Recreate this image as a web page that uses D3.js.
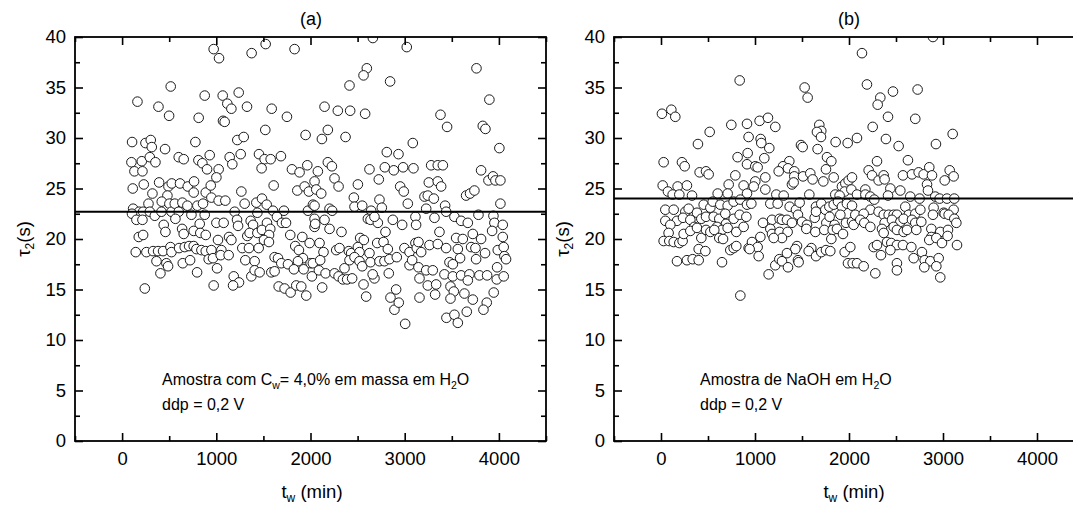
<!DOCTYPE html>
<html>
<head>
<meta charset="utf-8">
<script src="https://cdn.jsdelivr.net/npm/d3@7"></script>
<style>
  body { margin: 0; background: #fff; }
  text { font-family: Arial, "Liberation Sans", sans-serif; fill: #000; }
</style>
</head>
<body>
<svg id="chart" width="1073" height="508"></svg>
<script>
// tau2 (s) measured against waiting time tw (min)
const seriesA = [
  [516,35.1],[163,33.6],[386,33.1],[499,32.2],[813,32.0],[877,34.2],[106,29.6],[248,29.5],[304,29.8],[315,29.1],
  [456,28.9],[778,29.6],[99,27.6],[209,27.7],[294,28.1],[354,27.6],[131,26.7],[216,26.7],[601,28.1],[654,27.9],
  [810,27.8],[852,27.5],[902,26.9],[930,28.3],[113,25.0],[230,25.4],[393,25.6],[322,24.5],[492,25.2],[527,25.5],
  [615,25.5],[697,25.2],[764,25.7],[760,24.6],[481,24.3],[888,24.6],[117,23.0],[181,22.7],[105,22.5],[223,22.7],
  [280,23.5],[294,22.7],[347,22.3],[421,23.7],[418,22.7],[502,23.5],[524,22.7],[559,23.5],[601,22.7],[640,23.6],
  [693,23.3],[736,22.4],[799,23.3],[859,23.5],[877,22.4],[152,21.9],[216,21.9],[442,21.4],[460,20.7],[566,22.0],
  [177,20.2],[223,20.4],[637,21.0],[654,20.5],[760,20.8],[824,21.5],[830,20.6],[888,20.4],[145,18.7],[258,18.7],
  [329,18.8],[382,18.8],[435,18.8],[513,19.2],[524,18.7],[605,19.1],[665,19.2],[711,19.3],[760,19.3],[789,19.0],
  [842,18.9],[888,18.8],[365,17.8],[470,17.6],[488,17.3],[407,16.6],[644,17.6],[722,17.9],[796,16.7],[919,18.0],
  [241,15.1],
  [972,38.8],[1029,37.9],[1375,38.4],[1524,39.3],[1831,38.8],[1068,34.2],[1117,33.4],[1160,32.9],[1238,34.5],[1326,33.1],
  [1588,32.9],[1750,32.1],[1071,31.7],[1089,31.6],[1520,30.8],[1948,30.3],[1223,29.8],[1291,30.1],[1142,28.1],[1170,27.4],
  [1259,28.4],[1453,28.4],[1513,27.9],[1577,27.9],[1481,27.0],[1686,28.2],[1025,26.9],[1001,26.1],[1803,26.9],[1884,26.6],
  [1966,27.3],[941,25.3],[1266,24.7],[1609,25.3],[1860,24.8],[1938,25.2],[1983,24.7],[2043,25.7],[948,24.1],[1025,23.8],
  [1096,23.8],[1301,23.5],[1425,23.6],[1485,24.0],[1535,23.4],[1195,22.7],[1436,22.6],[1602,22.8],[1718,22.8],[1973,22.8],
  [2026,23.4],[1220,21.9],[1365,21.8],[1390,21.4],[1538,21.6],[1644,22.2],[1697,21.6],[1740,21.6],[2043,21.2],[1001,21.6],
  [1078,21.6],[1231,21.3],[1018,19.9],[1135,20.2],[1160,19.9],[1329,20.3],[1354,20.6],[1436,20.6],[1485,20.9],[1573,21.0],
  [1560,20.4],[1506,19.9],[1559,19.7],[1785,20.4],[1913,20.2],[1991,19.6],[948,18.9],[1054,18.9],[965,18.1],[1047,18.4],
  [1131,18.4],[1276,19.1],[1347,19.1],[1450,19.1],[1308,17.9],[1407,17.8],[1619,18.2],[1655,18.1],[1838,19.3],[1877,18.9],
  [1920,18.1],[1867,17.8],[1008,17.1],[1185,16.3],[1241,15.7],[1178,15.4],[1372,16.3],[1407,16.9],[1460,16.7],[1584,16.7],
  [1619,16.8],[1690,17.6],[1761,17.5],[1824,17.0],[1927,17.0],[2015,16.3],[2001,17.6],[972,15.4],[1662,15.3],[1725,15.1],
  [1789,14.7],[1849,15.4],[1902,15.3],[1955,14.4],
  [2662,39.9],[3022,39.0],[2598,36.9],[2563,36.2],[2414,35.2],[2845,35.6],[2149,33.1],[2290,32.7],[2421,32.7],[2580,32.4],
  [2184,30.8],[2121,29.9],[2372,30.1],[3086,29.5],[2810,28.6],[2934,28.4],[2184,27.6],[2227,27.2],[2078,26.7],[2626,26.9],
  [2789,27.1],[2884,26.8],[2983,27.1],[3093,27.0],[2255,26.0],[2298,25.2],[2503,25.4],[2725,25.9],[2061,24.9],[2114,24.5],
  [2952,25.2],[2990,24.7],[2043,23.3],[2460,24.1],[2732,23.9],[3033,23.5],[2202,23.0],[2230,22.8],[2467,23.2],[2549,23.3],
  [2644,22.8],[2757,23.1],[2043,22.0],[2149,21.9],[2050,21.5],[2202,21.0],[2329,20.7],[2609,22.0],[2637,21.9],[2715,21.6],
  [2679,22.2],[2874,21.9],[2973,21.4],[3114,22.2],[3121,21.4],[2796,20.7],[2527,20.1],[2566,19.9],[2708,19.6],[2775,19.7],
  [2821,19.0],[2096,19.6],[2138,18.7],[2273,18.9],[2308,19.1],[2407,18.8],[2432,18.6],[2503,19.2],[2520,18.7],[2626,18.6],
  [2997,19.1],[3051,18.7],[3114,19.6],[3128,19.1],[2025,17.6],[2103,17.9],[2089,16.9],[2160,16.6],[2255,16.6],[2298,16.3],
  [2344,16.0],[2389,16.0],[2442,16.1],[2361,17.1],[2414,17.9],[2467,18.2],[2520,17.8],[2549,17.3],[2637,17.7],[2679,16.1],
  [2660,16.5],[2732,17.8],[2785,17.8],[2838,18.0],[2831,16.6],[2916,18.2],[3051,17.4],[3079,17.9],[2124,15.2],[2563,15.5],
  [2591,14.3],[2849,14.2],[2909,15.0],[2891,13.0],[2937,13.7],[3005,11.6],
  [3762,36.9],[3899,33.8],[3380,32.3],[3450,31.1],[3829,31.2],[3857,30.9],[4005,29.0],[3281,27.3],[3351,27.3],[3405,27.3],
  [3811,26.8],[3889,25.8],[3938,26.2],[3963,25.8],[4016,25.8],[3256,25.6],[3351,25.7],[3387,25.2],[3210,24.2],[3245,24.3],
  [3309,24.0],[3228,23.0],[3652,24.3],[3694,24.5],[3740,24.8],[3429,23.3],[3440,22.7],[4016,23.5],[3316,22.1],[3528,22.2],
  [3599,21.8],[3670,21.6],[3783,22.4],[3942,22.3],[3952,21.6],[4041,21.4],[3369,20.7],[3723,20.5],[3811,20.0],[3928,20.8],
  [4041,20.2],[3146,19.7],[3263,19.4],[3351,19.5],[3440,19.1],[3546,20.1],[3617,20.0],[3564,19.0],[3705,19.2],[3751,19.1],
  [3853,18.6],[3988,18.9],[4051,19.2],[4058,18.3],[4076,18.0],[3175,18.7],[3588,18.1],[3758,18.0],[3475,17.7],[3511,17.5],
  [3146,17.2],[3228,16.9],[3298,16.9],[3422,16.5],[3511,16.3],[3599,16.4],[3687,16.5],[3670,15.9],[3793,16.4],[3875,16.4],
  [3981,17.2],[3977,16.0],[4051,16.3],[3157,16.1],[3245,15.4],[3334,15.5],[3323,14.5],[3486,15.3],[3521,14.8],[3486,14.1],
  [3634,14.6],[3723,14.0],[3945,14.7],[3871,13.7],[3836,13.0],[3157,14.2],[3443,12.2],[3528,12.5],[3564,11.7],[3659,12.8]
];

const seriesB = [
  [837,35.7],[10,32.4],[110,32.8],[152,32.1],[748,31.3],[915,31.4],[518,30.6],[393,29.4],[932,30.1],[922,28.5],
  [815,28.1],[915,27.4],[28,27.6],[223,27.6],[252,27.2],[411,26.6],[479,26.7],[507,26.4],[791,26.3],[18,25.3],
  [74,24.7],[177,25.2],[276,25.3],[124,24.4],[195,24.4],[330,24.3],[603,24.5],[720,25.4],[709,24.5],[879,25.3],
  [915,24.5],[46,22.9],[135,22.9],[259,22.7],[294,23.0],[383,22.6],[454,23.4],[525,23.1],[550,23.7],[631,23.4],
  [709,23.3],[773,23.7],[844,23.9],[915,23.4],[46,21.8],[170,21.8],[99,21.4],[234,22.1],[312,21.9],[354,21.2],
  [429,22.0],[479,22.2],[560,22.2],[620,22.0],[684,22.5],[691,21.5],[773,22.0],[837,22.4],[908,22.2],[596,21.2],
  [649,20.9],[709,21.1],[801,20.7],[879,21.2],[28,19.8],[81,20.6],[88,19.8],[135,19.7],[195,19.6],[230,19.8],
  [241,20.5],[312,20.8],[383,21.1],[429,20.1],[479,20.9],[525,20.7],[567,20.9],[620,20.1],[660,20.0],[737,18.9],
  [773,19.1],[801,19.3],[932,19.1],[170,17.8],[276,17.9],[337,18.0],[401,17.9],[401,19.0],[472,18.8],[649,17.7],
  [844,14.4],
  [1528,35.0],[1560,34.0],[1049,31.7],[1138,32.0],[1216,31.1],[1684,31.3],[1705,30.7],[1659,30.6],[1702,30.1],[1858,29.6],
  [1986,29.5],[1060,29.9],[1067,29.5],[1152,29.0],[1489,29.3],[1507,29.1],[1666,28.9],[1099,28.0],[1003,27.2],[1028,27.1],
  [1365,27.7],[1298,27.2],[1252,26.7],[1351,27.0],[1418,26.7],[1418,26.2],[1511,26.2],[1588,26.5],[1613,25.9],[1393,25.4],
  [1411,25.6],[1766,28.1],[1812,27.7],[1755,26.9],[1837,26.1],[1727,25.7],[1003,25.7],[1110,26.1],[986,25.2],[1110,24.9],
  [1925,25.2],[1961,25.5],[1996,25.8],[2032,26.1],[1954,24.7],[2025,24.9],[1227,24.4],[1305,24.3],[1578,24.4],[1854,24.4],
  [1900,24.3],[961,23.5],[1163,23.5],[1241,23.5],[1369,23.2],[1436,22.9],[1475,23.6],[1649,23.2],[1705,23.5],[1748,22.9],
  [1791,23.2],[1837,23.4],[1883,23.7],[1925,23.2],[1978,23.5],[2032,23.3],[1085,21.6],[1181,21.9],[1262,22.0],[1287,21.9],
  [1340,21.9],[1393,21.6],[1457,22.4],[1500,21.7],[1553,21.4],[1635,22.1],[1649,22.7],[1759,21.6],[1794,22.2],[1847,21.4],
  [1908,22.4],[1968,21.6],[2032,21.7],[2067,22.4],[1163,21.0],[1181,20.5],[1262,20.7],[1347,20.7],[1057,20.2],[1546,21.0],
  [1642,20.7],[1737,20.9],[1826,20.9],[1872,21.0],[1936,20.5],[2049,21.4],[968,19.7],[1028,19.2],[943,19.0],[1039,18.3],
  [1287,20.1],[1199,20.1],[1447,19.3],[1429,19.0],[1599,19.1],[1571,18.8],[1649,18.3],[1705,18.7],[1755,18.9],[1812,20.0],
  [1801,18.8],[1954,18.7],[2014,19.2],[1145,16.5],[1216,17.4],[1259,18.0],[1287,17.8],[1351,17.2],[1340,18.6],[1457,17.9],
  [1464,17.7],[1989,17.6],[2039,17.6],
  [2138,38.4],[2893,40.0],[2191,35.3],[2333,34.0],[2305,33.3],[2468,34.6],[2730,34.8],[2415,32.1],[2705,31.9],[2252,31.1],
  [2085,30.0],[2393,29.9],[2528,29.2],[2925,29.4],[3103,30.4],[2298,27.7],[2627,27.8],[2209,26.8],[2245,26.3],[2315,25.8],
  [2369,26.3],[2379,25.9],[2574,26.3],[2670,26.4],[2741,26.6],[2794,26.4],[2854,27.1],[2883,26.3],[2830,25.4],[2840,24.8],
  [3018,25.8],[3071,26.8],[3113,26.2],[2440,25.0],[2546,24.8],[2174,24.9],[2085,24.4],[2174,24.4],[2227,24.2],[2269,23.9],
  [2415,24.3],[2652,24.2],[2751,24.0],[2918,24.2],[2964,24.0],[3042,24.0],[3120,24.0],[2227,22.9],[2315,22.7],[2369,22.4],
  [2422,22.4],[2475,22.4],[2510,22.4],[2599,23.2],[2635,22.4],[2705,22.5],[2759,22.9],[2900,23.1],[3007,22.6],[3113,22.9],
  [2156,22.5],[2120,21.9],[2163,21.6],[2227,21.2],[2379,21.6],[2457,21.9],[2546,21.7],[2581,22.0],[2670,21.9],[2705,21.6],
  [2769,21.7],[2893,22.4],[3018,22.5],[3060,22.4],[3120,22.0],[3142,21.6],[2351,21.0],[2369,20.6],[2475,21.2],[2510,20.9],
  [2581,20.7],[2617,20.9],[2716,20.9],[2876,21.0],[2971,20.7],[3053,20.9],[2876,20.2],[2854,19.9],[2929,20.1],[2989,19.6],
  [3049,20.3],[2404,19.7],[2450,19.6],[2510,19.4],[2574,19.4],[2663,19.2],[2262,19.2],[2298,19.4],[2340,18.4],[2440,18.9],
  [3149,19.4],[2688,18.1],[2776,18.7],[2805,17.9],[2865,17.8],[2954,18.1],[2929,17.3],[2801,17.2],[2085,17.6],[2156,17.3],
  [2280,16.6],[2510,17.6],[2510,16.9],[2971,16.2]
];

// Mean tau2 level drawn as a horizontal reference line
const meanA = 22.7;
const meanB = 24.0;

const xTicks = [0, 1000, 2000, 3000, 4000];
const xMinor = [-500, 500, 1500, 2500, 3500, 4500];
const yTicks = [0, 5, 10, 15, 20, 25, 30, 35, 40];
const yMinor = [2.5, 7.5, 12.5, 17.5, 22.5, 27.5, 32.5, 37.5];

const panels = [
  { id: "a", title: "(a)", data: seriesA, mean: meanA, left: 75, right: 546,
    note: [["Amostra com C", false], ["w", true], ["= 4,0% em massa em H", false], ["2", true], ["O", false]],
    noteX: 162 },
  { id: "b", title: "(b)", data: seriesB, mean: meanB, left: 614, right: 1084,
    note: [["Amostra de NaOH em H", false], ["2", true], ["O", false]],
    noteX: 700 }
];

const plotTop = 37, plotBottom = 441;
const svg = d3.select("#chart");

function addRich(sel, parts, mainSize, subSize) {
  parts.forEach(([txt, sub]) => {
    const t = sel.append("tspan").text(txt);
    if (sub) t.attr("font-size", subSize).attr("baseline-shift", "-35%");
    else t.attr("font-size", mainSize);
  });
}

panels.forEach(p => {
  const x = d3.scaleLinear().domain([-500, 4500]).range([p.left, p.right]);
  const y = d3.scaleLinear().domain([0, 40]).range([plotBottom, plotTop]);
  const g = svg.append("g");

  g.append("clipPath").attr("id", "clip-" + p.id)
    .append("rect").attr("x", p.left).attr("y", plotTop)
    .attr("width", p.right - p.left).attr("height", plotBottom - plotTop);

  const plot = g.append("g").attr("clip-path", `url(#clip-${p.id})`);
  plot.selectAll("circle").data(p.data).join("circle")
    .attr("cx", d => x(d[0])).attr("cy", d => y(d[1])).attr("r", 4.8)
    .attr("fill", "#fff").attr("stroke", "#1a1a1a").attr("stroke-width", 1);

  plot.append("line")
    .attr("x1", p.left).attr("x2", p.right)
    .attr("y1", y(p.mean)).attr("y2", y(p.mean))
    .attr("stroke", "#000").attr("stroke-width", 2);

  // Axes: labelled bottom/left, mirrored ticks on top/right, all pointing inward
  const major = 8, minor = 5;
  g.append("g").attr("transform", `translate(0,${plotBottom})`)
    .call(d3.axisBottom(x).tickValues(xTicks).tickSize(-major).tickPadding(11).tickFormat(d3.format("d")));
  g.append("g").attr("transform", `translate(0,${plotTop})`)
    .call(d3.axisTop(x).tickValues(xTicks).tickSize(-major).tickFormat(""));
  g.append("g").attr("transform", `translate(${p.left},0)`)
    .call(d3.axisLeft(y).tickValues(yTicks).tickSize(-major).tickPadding(9).tickFormat(d3.format("d")));
  g.append("g").attr("transform", `translate(${p.right},0)`)
    .call(d3.axisRight(y).tickValues(yTicks).tickSize(-major).tickFormat(""));
  g.append("g").attr("transform", `translate(0,${plotBottom})`)
    .call(d3.axisBottom(x).tickValues(xMinor).tickSize(-minor).tickFormat(""));
  g.append("g").attr("transform", `translate(0,${plotTop})`)
    .call(d3.axisTop(x).tickValues(xMinor).tickSize(-minor).tickFormat(""));
  g.append("g").attr("transform", `translate(${p.left},0)`)
    .call(d3.axisLeft(y).tickValues(yMinor).tickSize(-minor).tickFormat(""));
  g.append("g").attr("transform", `translate(${p.right},0)`)
    .call(d3.axisRight(y).tickValues(yMinor).tickSize(-minor).tickFormat(""));

  g.selectAll(".domain").remove();
  g.selectAll(".tick line").attr("stroke", "#000").attr("stroke-width", 1.6);
  g.selectAll(".tick text").attr("font-size", 18.5)
    .attr("font-family", "Arial, 'Liberation Sans', sans-serif").attr("fill", "#000");

  g.append("rect").attr("x", p.left).attr("y", plotTop)
    .attr("width", p.right - p.left).attr("height", plotBottom - plotTop)
    .attr("fill", "none").attr("stroke", "#000").attr("stroke-width", 1.8);

  // Panel title
  g.append("text").attr("x", p.id === "a" ? 311 : 849).attr("y", 25)
    .attr("text-anchor", "middle").attr("font-size", 18).text(p.title);

  // Axis titles
  const yl = g.append("text")
    .attr("transform", `translate(${p.left - 45},${(plotTop + plotBottom) / 2}) rotate(-90)`)
    .attr("text-anchor", "middle");
  addRich(yl, [["\u03c4", false], ["2", true], ["(s)", false]], 18.5, 12);

  const xl = g.append("text").attr("x", p.id === "a" ? 312 : 854).attr("y", 498)
    .attr("text-anchor", "middle");
  addRich(xl, [["t", false], ["w", true], [" (min)", false]], 18.5, 12);

  // Sample annotation
  const n1 = g.append("text").attr("x", p.noteX).attr("y", 385);
  addRich(n1, p.note, 16, 10.5);
  g.append("text").attr("x", p.noteX).attr("y", 410).attr("font-size", 16).text("ddp = 0,2 V");
});
</script>
</body>
</html>
